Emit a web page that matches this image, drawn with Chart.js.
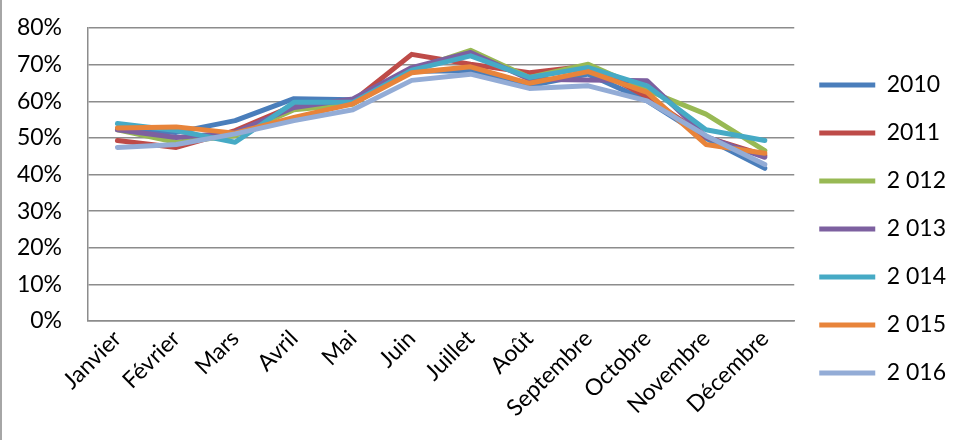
<!DOCTYPE html>
<html lang="fr">
  <head>
    <meta charset="UTF-8" />
    <title>Taux mensuels 2010-2016</title>
    <style>
      html, body { margin: 0; padding: 0; background: #fff; }
      #wrap { width: 956px; height: 440px; box-sizing: border-box; border-left: 2px solid #a6a6a6; }
    </style>
  </head>
  <body>
    <div id="wrap"><canvas id="myChart" width="954" height="440"></canvas></div>

    <script src="https://cdn.jsdelivr.net/npm/chart.js@4/dist/chart.umd.min.js"></script>
    <script>
      const months = ["Janvier", "Février", "Mars", "Avril", "Mai", "Juin", "Juillet",
        "Août", "Septembre", "Octobre", "Novembre", "Décembre"];
      const yearLabels = ["2010", "2011", "2 012", "2 013", "2 014", "2 015", "2 016"];
      const yTicks = [0, 10, 20, 30, 40, 50, 60, 70, 80];

      const y2010 = [52.5, 51.5, 54.7, 60.7, 60.4, 68.2, 68.3, 64.2, 67.4, 60.1, 49.9, 41.7];
      const y2011 = [49.3, 47.4, 52.0, 58.8, 60.0, 72.8, 70.1, 67.8, 69.6, 61.2, 50.2, 45.2];
      const y2012 = [52.2, 48.8, 50.6, 57.7, 59.2, 68.6, 73.9, 66.5, 70.1, 63.0, 56.5, 46.5];
      const y2013 = [52.2, 50.1, 51.5, 58.3, 60.6, 69.2, 73.3, 66.0, 65.8, 65.6, 50.3, 44.7];
      const y2014 = [53.9, 52.0, 48.8, 59.7, 59.7, 68.5, 72.4, 66.5, 69.2, 64.2, 52.2, 49.3];
      const y2015 = [52.7, 53.0, 51.3, 55.6, 59.3, 67.8, 69.4, 64.9, 68.1, 62.4, 48.2, 45.8];
      const y2016 = [47.4, 48.2, 51.1, 54.7, 57.7, 65.7, 67.4, 63.5, 64.2, 60.1, 50.6, 42.7];

      const seriesValues = [y2010, y2011, y2012, y2013, y2014, y2015, y2016];
      const seriesColors = ["#4a7ebb", "#be4b48", "#98b954", "#7d60a0", "#46aac5", "#e8843a", "#93acd6"];

      const fontFamily = "Lato, 'Noto Sans', sans-serif";
      const gridColor = "#8c8c8c";

      const datasets = seriesValues.map((vals, i) => {
        return {
          label: yearLabels[i],
          data: vals,
          borderColor: seriesColors[i],
          backgroundColor: seriesColors[i],
          borderWidth: 5,
          pointRadius: 0,
          pointHoverRadius: 0,
          pointStyle: "line",
          tension: 0,
          fill: false,
          borderJoinStyle: "round",
          borderCapStyle: "round",
          order: seriesValues.length - i // later years drawn on top
        };
      });

      const ctx = document.getElementById("myChart").getContext("2d");
      const chart = new Chart(ctx, {
        type: "line",
        data: { labels: months, datasets: datasets },
        options: {
          responsive: false,
          animation: false,
          events: [],
          layout: { padding: { left: 0, top: 28, right: 0, bottom: 10 } },
          plugins: {
            tooltip: { enabled: false },
            legend: {
              position: "right",
              align: "center",
              labels: {
                usePointStyle: true,
                pointStyleWidth: 56,
                boxHeight: 23,
                padding: 25,
                color: "#000",
                font: { family: fontFamily, size: 23 },
                sort: (a, b) => a.datasetIndex - b.datasetIndex
              }
            }
          },
          scales: {
            x: {
              offset: true,
              grid: { display: false, drawTicks: false },
              border: { display: true, color: gridColor, width: 1.5 },
              ticks: {
                color: "#000",
                maxRotation: 45,
                minRotation: 45,
                autoSkip: false,
                padding: 4,
                font: { family: fontFamily, size: 23 }
              },
              afterFit: scale => { scale.height = 109; }
            },
            y: {
              min: 0,
              max: 80,
              afterBuildTicks: scale => { scale.ticks = yTicks.map(v => ({ value: v })); },
              grid: { color: gridColor, lineWidth: 1.5, drawTicks: false },
              border: { display: true, color: gridColor, width: 1.5 },
              ticks: {
                color: "#000",
                padding: 26,
                font: { family: fontFamily, size: 23 },
                callback: v => v + "%"
              },
              afterFit: scale => {
                scale.width = 86;
                scale.paddingTop = 0;
                scale.paddingBottom = 0;
              }
            }
          }
        }
      });
    </script>
  </body>
</html>
